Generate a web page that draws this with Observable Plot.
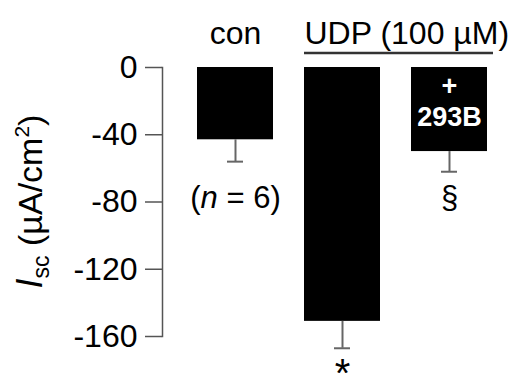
<!DOCTYPE html>
<html><head><meta charset="utf-8">
<script src="https://cdn.jsdelivr.net/npm/d3@7"></script>
<script src="https://cdn.jsdelivr.net/npm/@observablehq/plot@0.6"></script>
<style>body{margin:0;background:#fff} svg{display:block}</style>
</head><body><div id="chart"></div>
<script>
const categories = ["con", "UDP", "UDP+293B"];
const means = [-43, -151, -50];
const errEnds = [-56, -167, -62];
const topLabels = ["con", "", ""];
const insideLabels = ["", "", "+\n293B"];
const belowLabels = ["(n = 6)", "", "§"];
const sigLabels = ["", "*", ""];
const yTicks = [0, -40, -80, -120, -160];
const groupLabel = "UDP (100 µM)";
const groupMembers = ["UDP", "UDP+293B"];

const data = categories.map((c, i) => ({cat: c, mean: means[i], err: errEnds[i], top: topLabels[i], inside: insideLabels[i], below: belowLabels[i], sig: sigLabels[i]}));
const font = "'Liberation Sans', Arial, Helvetica, sans-serif";

const plot = Plot.plot({
  width: 511, height: 373, marginTop: 67, marginBottom: 37, marginLeft: 162, marginRight: 8,
  style: {fontFamily: font, background: "white", color: "black"},
  x: {domain: categories, range: [180, 503], paddingInner: 0.29, paddingOuter: 0.145, axis: null},
  y: {domain: [-160, 0], axis: null},
  marks: [
    Plot.frame({anchor: "left", stroke: "#555", strokeWidth: 1.5}),
    Plot.axisY(yTicks, {anchor: "left", tickSize: 17, tickPadding: 8, tickFormat: d => String(d), fontSize: 32, stroke: "#555", strokeWidth: 1.5, fill: "black", label: null}),
    Plot.barY(data, {x: "cat", y1: 0, y2: "mean", fill: "black"}),
    Plot.ruleX(data, {x: "cat", y1: "mean", y2: "err", stroke: "#666", strokeWidth: 2}),
    Plot.tickY(data, {x: "cat", y: "err", stroke: "#666", strokeWidth: 2, insetLeft: 30, insetRight: 30}),
    Plot.text(data, {x: "cat", text: "top", frameAnchor: "top", lineAnchor: "middle", dy: -34, fontSize: 32}),
    Plot.text([groupLabel], {x: () => groupMembers[0], text: d => d, frameAnchor: "top", lineAnchor: "middle", textAnchor: "start", dx: -38, dy: -34, fontSize: 32}),
    Plot.text(data, {x: "cat", text: "inside", frameAnchor: "top", lineAnchor: "top", dy: 5, fill: "white", fontWeight: "bold", fontSize: 27, lineHeight: 1.15}),
    Plot.text(data, {x: "cat", text: "below", frameAnchor: "top", lineAnchor: "middle", dy: 131, fontSize: 31}),
    Plot.text(data, {x: "cat", y: "err", text: "sig", lineAnchor: "top", dy: 10, fontSize: 40})
  ]
});

const svg = d3.select(plot);
const xs = plot.scale("x"), ys = plot.scale("y");
// group underline
const ux1 = xs.apply(groupMembers[0]);
const ux2 = xs.apply(groupMembers[1]) + xs.bandwidth + 6;
svg.append("line").attr("x1", ux1).attr("x2", ux2)
  .attr("y1", ys.apply(0) - 14).attr("y2", ys.apply(0) - 14)
  .attr("stroke", "#333").attr("stroke-width", 2.5);
// italic n
svg.selectAll("text").each(function() {
  const t = d3.select(this);
  if (t.text() === "(n = 6)") {
    t.text("");
    t.append("tspan").text("(");
    t.append("tspan").attr("font-style", "italic").text("n");
    t.append("tspan").text(" = 6)");
  }
});
// y label
const yc = (ys.apply(0) + ys.apply(-160)) / 2;
const lab = svg.append("text")
  .attr("transform", `translate(42,${yc}) rotate(-90)`)
  .attr("text-anchor", "middle").attr("font-size", 34).attr("font-family", font).attr("fill", "black");
lab.append("tspan").attr("font-style", "italic").attr("font-size", 36).text("I");
lab.append("tspan").attr("font-size", 23).attr("dy", 7).text("sc");
lab.append("tspan").attr("dy", -7).text(" (µA/cm");
lab.append("tspan").attr("font-size", 21).attr("dy", -13).text("2");
lab.append("tspan").attr("dy", 13).text(")");

document.getElementById("chart").appendChild(plot);
</script>
</body></html>
